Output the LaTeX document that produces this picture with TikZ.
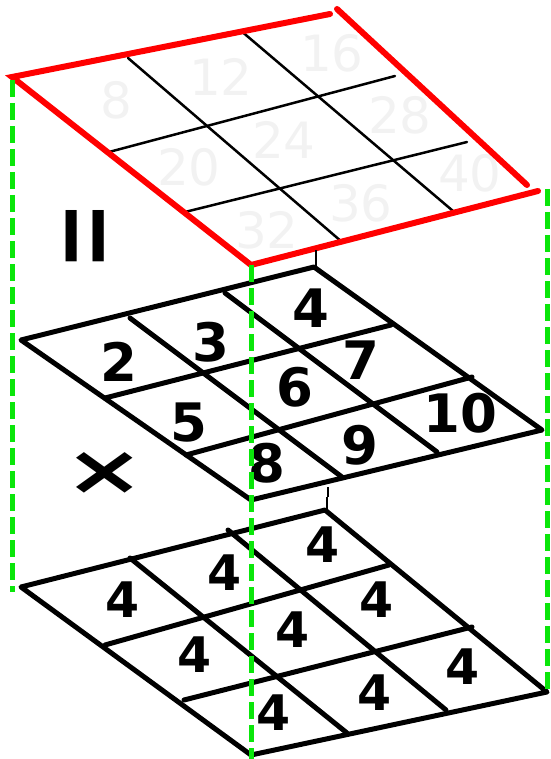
\documentclass[tikz,border=0pt]{standalone}
\usepackage{fontspec}
\setmainfont{DejaVu Sans}
\definecolor{gr}{RGB}{10,230,10}
\definecolor{rd}{RGB}{255,0,0}
\begin{document}
\begin{tikzpicture}[x=1pt,y=-1pt,
  gridline/.style={line width=5pt,line cap=round,line join=round},
  redline/.style={draw=rd,line width=6pt,line cap=round},
  thinline/.style={line width=2.5pt,line cap=round},
  guide/.style={draw=gr,line width=5pt,dash pattern=on 17pt off 6pt},
  num/.style={font=\fontsize{53}{53}\selectfont\bfseries,inner sep=0pt},
  bnum/.style={font=\fontsize{49}{49}\selectfont\bfseries,inner sep=0pt},
  faint/.style={font=\fontsize{50}{50}\selectfont,text=black!5,inner sep=0pt},
  ticky/.style={line width=1.5pt}]
\useasboundingbox (0,0) rectangle (550,759);
% ---------- top grid (result) ----------
\coordinate (tA) at (12,77);
\coordinate (tB1) at (330,14);
\coordinate (tB2) at (337,9);
\coordinate (tC1) at (527,185);
\coordinate (tC2) at (538,191);
\coordinate (tD) at (251,265);
\node[faint] (f8)  at (116,100) {8};
\node[faint] (f12) at (221,77)  {12};
\node[faint] (f16) at (332,53)  {16};
\node[faint] (f20) at (189,167) {20};
\node[faint] (f24) at (284,140) {24};
\node[faint] (f28) at (400,115) {28};
\node[faint] (f32) at (267,230) {32};
\node[faint] (f36) at (361,203) {36};
\node[faint] (f40) at (470,173) {40};
\coordinate (tv1a) at (128,58);  \coordinate (tv1b) at (342,242);
\coordinate (tv2a) at (240,30);  \coordinate (tv2b) at (453,211);
\coordinate (th1a) at (109,152); \coordinate (th1b) at (395,76);
\coordinate (th2a) at (185,212); \coordinate (th2b) at (467,142);
\draw[thinline] (tv1a) -- (tv1b);
\draw[thinline] (tv2a) -- (tv2b);
\draw[thinline] (th1a) -- (th1b);
\draw[thinline] (th2a) -- (th2b);
\draw[redline] (tB1) -- (tA) -- (tD) -- (tC2);
\draw[redline] (tB2) -- (tC1);
% ---------- middle grid ----------
\coordinate (mL) at (21,340);
\coordinate (mT) at (314,267);
\coordinate (mR) at (542,430);
\coordinate (mB) at (251,500);
\coordinate (mv1a) at (130,318); \coordinate (mv1b) at (342,477);
\coordinate (mv2a) at (225,293); \coordinate (mv2b) at (437,452);
\coordinate (mh1a) at (105,398); \coordinate (mh1b) at (391,325);
\coordinate (mh2a) at (186,455); \coordinate (mh2b) at (472,377);
\draw[gridline] (mL) -- (mT) -- (mR) -- (mB) -- cycle;
\draw[gridline] (mv1a) -- (mv1b);
\draw[gridline] (mv2a) -- (mv2b);
\draw[gridline] (mh1a) -- (mh1b);
\draw[gridline] (mh2a) -- (mh2b);
\coordinate (k1a) at (316,250); \coordinate (k1b) at (316,266);
\draw[ticky] (k1a) -- (k1b);
\coordinate (k2a) at (328,487); \coordinate (k2b) at (328,497);
\draw[ticky] (k2a) -- (k2b);
\node[num] (n2)  at (119,362) {2};
\node[num] (n3)  at (211,342) {3};
\node[num] (n4)  at (311,308) {4};
\node[num] (n5)  at (189,423) {5};
\node[num] (n6)  at (295,387) {6};
\node[num] (n7)  at (361,360) {7};
\node[num] (n8)  at (267,463) {8};
\node[num] (n9)  at (360,445) {9};
\node[num] (n10) at (460,413) {10};
% ---------- bottom grid ----------
\coordinate (bL) at (21,587);
\coordinate (bT) at (325,510);
\coordinate (bR) at (547,692);
\coordinate (bB) at (251,755);
\coordinate (bv1a) at (130,558); \coordinate (bv1b) at (347,733);
\coordinate (bv2a) at (228,530); \coordinate (bv2b) at (446,710);
\coordinate (bh1a) at (105,645); \coordinate (bh1b) at (389,565);
\coordinate (bh2a) at (184,700); \coordinate (bh2b) at (472,627);
\draw[gridline] (bL) -- (bT) -- (bR) -- (bB) -- cycle;
\draw[gridline] (bv1a) -- (bv1b);
\draw[gridline] (bv2a) -- (bv2b);
\draw[gridline] (bh1a) -- (bh1b);
\draw[gridline] (bh2a) -- (bh2b);
\coordinate (k3a) at (327,497); \coordinate (k3b) at (327,510);
\draw[ticky] (k3a) -- (k3b);
\node[bnum] (q1) at (123,600) {4};
\node[bnum] (q2) at (225,573) {4};
\node[bnum] (q3) at (323,545) {4};
\node[bnum] (q4) at (195,655) {4};
\node[bnum] (q5) at (293,630) {4};
\node[bnum] (q6) at (377,600) {4};
\node[bnum] (q7) at (274,713) {4};
\node[bnum] (q8) at (375,693) {4};
\node[bnum] (q9) at (463,667) {4};
% ---------- operators ----------
\node[inner sep=0pt] (eq) at (97,236)
  {\rotatebox{90}{\fontsize{82}{82}\selectfont\scalebox{1}[1.65]{=}}};
\node[inner sep=0pt] (times) at (105,474)
  {\fontsize{96}{96}\selectfont\bfseries\scalebox{1}[0.72]{×}};
% ---------- green guides ----------
\coordinate (gLa) at (12,80);  \coordinate (gLb) at (12,592);
\coordinate (gMa) at (251,265); \coordinate (gMb) at (251,759);
\coordinate (gRa) at (547,189); \coordinate (gRb) at (547,692);
\draw[guide] (gLa) -- (gLb);
\draw[guide] (gMa) -- (gMb);
\draw[guide] (gRa) -- (gRb);
\end{tikzpicture}
\end{document}
